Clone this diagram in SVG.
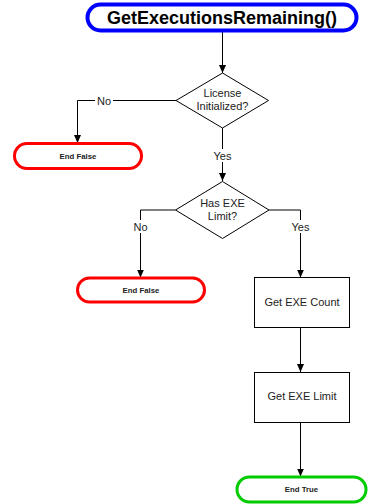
<svg xmlns="http://www.w3.org/2000/svg" width="368" height="504" viewBox="0 0 368 504">
<defs>
<marker id="arr" viewBox="0 0 8 8" refX="8" refY="4" markerWidth="8" markerHeight="8" markerUnits="userSpaceOnUse" orient="auto">
<path d="M0,0.5 L8,4 L0,7.5 Z" fill="#000"/>
</marker>
<style>
.t{font-family:"Liberation Sans",Arial,sans-serif;fill:#222;text-anchor:middle}
.term{fill:#fff;stroke-width:3}
.box{fill:#fff;stroke:#000;stroke-width:1}
.ln{fill:none;stroke:#000;stroke-width:1}
.lbl{font-size:11px}
.sm{font-size:7.8px;font-weight:bold}
</style>
</defs>
<rect width="368" height="504" fill="#fff"/>
<g id="connectors">
<path class="ln" d="M222.5,31 V73" marker-end="url(#arr)"/>
<path class="ln" d="M176,100.5 H77.5 V143" marker-end="url(#arr)"/>
<path class="ln" d="M222.5,128 V181" marker-end="url(#arr)"/>
<path class="ln" d="M175.5,210 H140.5 V277.5" marker-end="url(#arr)"/>
<path class="ln" d="M269,210 H300.5 V277.5" marker-end="url(#arr)"/>
<path class="ln" d="M300.5,328 V372" marker-end="url(#arr)"/>
<path class="ln" d="M300.5,423 V476.5" marker-end="url(#arr)"/>
<rect x="95" y="94" width="18" height="13" fill="#fff"/>
<text class="t lbl" x="104" y="104.5">No</text>
<rect x="210" y="149" width="25" height="13" fill="#fff"/>
<text class="t lbl" x="222.5" y="159.5">Yes</text>
<rect x="131" y="220" width="19" height="13" fill="#fff"/>
<text class="t lbl" x="140.5" y="230.5">No</text>
<rect x="288" y="220" width="25" height="13" fill="#fff"/>
<text class="t lbl" x="300.5" y="230.5">Yes</text>
</g>
<g id="start">
<rect x="87.5" y="4.5" width="269" height="26" rx="13" ry="13" fill="#fff" stroke="#0000ff" stroke-width="4"/>
<text x="222" y="24" font-family="Liberation Sans, Arial, sans-serif" font-size="18" font-weight="bold" text-anchor="middle" fill="#000">GetExecutionsRemaining()</text>
</g>
<g id="licenseInit">
<polygon class="box" points="222.5,73 268.5,100.5 222.5,128 176,100.5"/>
<text class="t lbl" x="222.5" y="96.5">License</text>
<text class="t lbl" x="222.5" y="109.5">Initialized?</text>
</g>
<g id="endFalse1">
<rect class="term" x="14.5" y="143.5" width="127" height="25" rx="12.5" ry="12.5" stroke="#ff0000"/>
<text class="t sm" x="78" y="158.5">End False</text>
</g>
<g id="hasLimit">
<polygon class="box" points="222.5,181.5 269,210 222.5,238.5 175.5,210"/>
<text class="t lbl" x="222.5" y="207">Has EXE</text>
<text class="t lbl" x="222.5" y="220">Limit?</text>
</g>
<g id="endFalse2">
<rect class="term" x="77.5" y="278" width="127" height="24" rx="12" ry="12" stroke="#ff0000"/>
<text class="t sm" x="141" y="292.5">End False</text>
</g>
<g id="getCount">
<rect class="box" x="254.5" y="277.5" width="95" height="50"/>
<text class="t lbl" x="302" y="306">Get EXE Count</text>
</g>
<g id="getLimit">
<rect class="box" x="254.5" y="372.5" width="95" height="50"/>
<text class="t lbl" x="302" y="400">Get EXE Limit</text>
</g>
<g id="endTrue">
<rect class="term" x="237" y="477" width="129" height="25" rx="12.5" ry="12.5" stroke="#00cc00"/>
<text class="t sm" x="301.5" y="492">End True</text>
</g>
</svg>
